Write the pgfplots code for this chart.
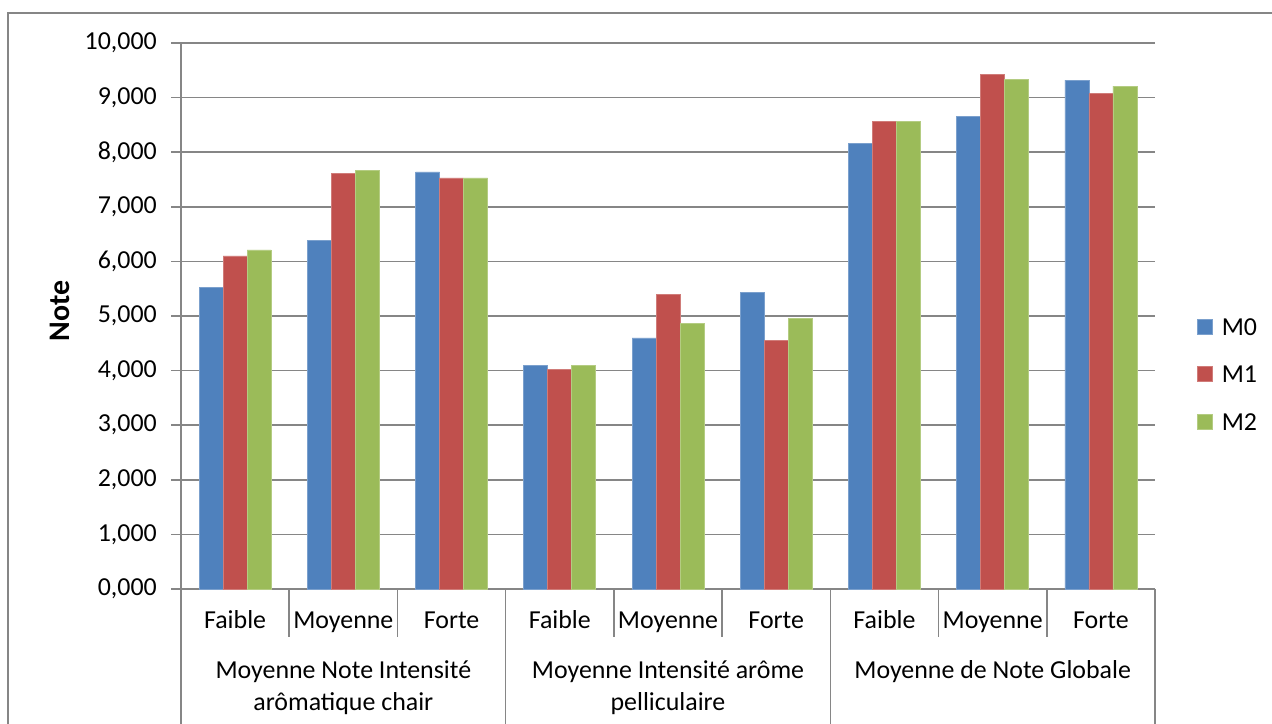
\documentclass[border=0pt]{standalone}
\usepackage{pgfplots}
\pgfplotsset{compat=1.18}
\usepackage{fontspec}
\setmainfont{Carlito}
\definecolor{cM0}{HTML}{4F81BD}
\definecolor{cM1}{HTML}{C0504D}
\definecolor{cM2}{HTML}{9BBB59}
\definecolor{gridc}{HTML}{868686}
\newcommand{\fs}{\fontsize{26}{31}\selectfont}
\begin{document}
\begin{tikzpicture}[x=1bp,y=1bp]
\useasboundingbox (0,0) rectangle (1272,724);
\draw[gridc, line width=2bp] (8,-5) -- (8,711) -- (1280,711);
\begin{axis}[
  at={(181bp,135bp)}, anchor=south west,
  scale only axis, width=974bp, height=546bp,
  xmin=-0.5, xmax=8.5, ymin=0, ymax=10,
  ybar=0pt, bar width=24bp,
  axis x line*=bottom, axis y line*=left,
  axis line style={gridc, line width=1.5bp},
  xtick={0,...,8},
  xticklabels={Faible,Moyenne,Forte,Faible,Moyenne,Forte,Faible,Moyenne,Forte},
  x tick style={draw=none},
  xticklabel style={anchor=base, yshift=-30bp, inner sep=0pt, font=\fs},
  ytick={0,...,10},
  tick align=outside, major tick length=10bp,
  y tick style={gridc, line width=1.5bp},
  ymajorgrids, grid style={gridc, line width=1.5bp},
  /pgf/number format/.cd, fixed, fixed zerofill, precision=3, use comma, assume math mode=true, /pgfplots/.cd,
  yticklabel style={font=\fs, inner sep=0pt, xshift=-14bp},
  ylabel={Note},
  ylabel style={at={(axis description cs:-0.1242,0.509)}, rotate=0, anchor=center, font=\bfseries\fontsize{30}{36}\selectfont},
  legend style={at={(axis description cs:1,0.393)}, anchor=west, xshift=42bp,
    draw=none, fill=none, inner sep=0pt, row sep=30.5bp, column sep=9bp,
    font=\fs, nodes={inner sep=0pt, text height=17bp, text depth=0bp}},
  legend cell align=left,
  legend image code/.code={\fill[#1] (0bp,-7bp) rectangle (15bp,8bp);},
  clip=false,
]
\addplot[fill=cM0, draw=cM0!75!white, line width=0.6bp] coordinates {(0,5.53) (1,6.39) (2,7.64) (3,4.09) (4,4.60) (5,5.43) (6,8.16) (7,8.66) (8,9.32)};
\addplot[fill=cM1, draw=cM1!75!white, line width=0.6bp] coordinates {(0,6.10) (1,7.61) (2,7.53) (3,4.02) (4,5.39) (5,4.56) (6,8.57) (7,9.42) (8,9.07)};
\addplot[fill=cM2, draw=cM2!75!white, line width=0.6bp] coordinates {(0,6.21) (1,7.66) (2,7.53) (3,4.09) (4,4.86) (5,4.96) (6,8.57) (7,9.33) (8,9.21)};
\legend{M0,M1,M2}
\draw[gridc, line width=1.5bp] (axis cs:0.5,0) -- ++(0pt,-48bp);
\draw[gridc, line width=1.5bp] (axis cs:1.5,0) -- ++(0pt,-48bp);
\draw[gridc, line width=1.5bp] (axis cs:3.5,0) -- ++(0pt,-48bp);
\draw[gridc, line width=1.5bp] (axis cs:4.5,0) -- ++(0pt,-48bp);
\draw[gridc, line width=1.5bp] (axis cs:6.5,0) -- ++(0pt,-48bp);
\draw[gridc, line width=1.5bp] (axis cs:7.5,0) -- ++(0pt,-48bp);
\draw[gridc, line width=1.5bp] (axis cs:-0.5,0) -- ++(0pt,-150bp);
\draw[gridc, line width=1.5bp] (axis cs:2.5,0) -- ++(0pt,-150bp);
\draw[gridc, line width=1.5bp] (axis cs:5.5,0) -- ++(0pt,-150bp);
\draw[gridc, line width=1.5bp] (axis cs:8.5,0) -- ++(0pt,-150bp);
\node[anchor=base, font=\fs, inner sep=0pt, yshift=-90bp] at (axis cs:1,0) {Moyenne Note Intensité};
\node[anchor=base, font=\fs, inner sep=0pt, yshift=-122bp] at (axis cs:1,0) {arômatique chair};
\node[anchor=base, font=\fs, inner sep=0pt, yshift=-90bp] at (axis cs:4,0) {Moyenne Intensité arôme};
\node[anchor=base, font=\fs, inner sep=0pt, yshift=-122bp] at (axis cs:4,0) {pelliculaire};
\node[anchor=base, font=\fs, inner sep=0pt, yshift=-90bp] at (axis cs:7,0) {Moyenne de Note Globale};
\end{axis}
\end{tikzpicture}
\end{document}
